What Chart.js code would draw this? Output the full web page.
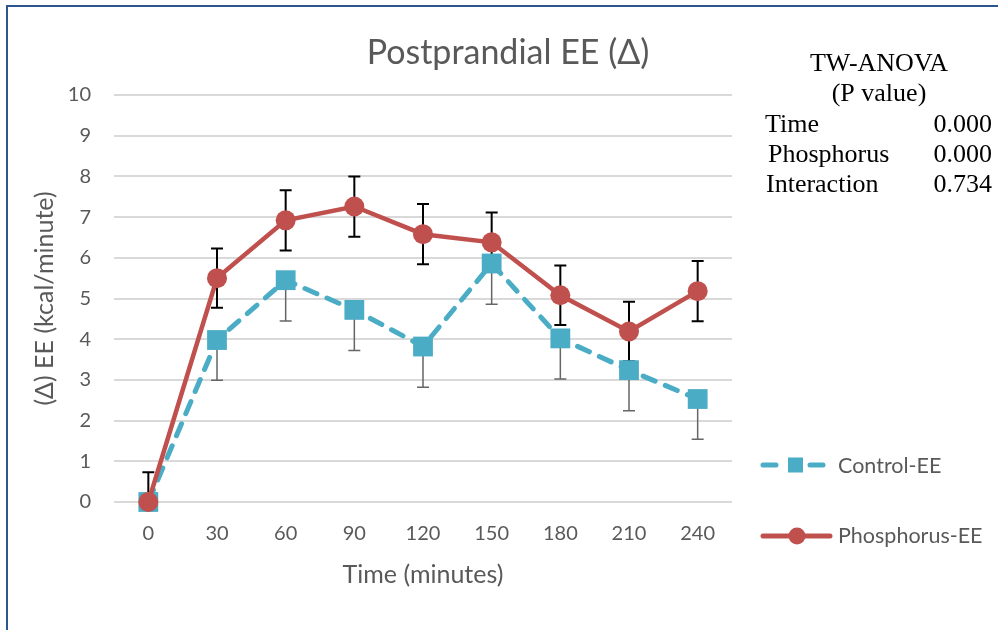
<!DOCTYPE html>
<html>
<head>
<meta charset="utf-8">
<script src="https://cdn.jsdelivr.net/npm/chart.js@4/dist/chart.umd.min.js"></script>
<style>
  html, body { margin: 0; padding: 0; background: #fff; overflow: hidden; }
  #wrap { position: relative; width: 998px; height: 630px; }
  #wrap canvas { position: absolute; left: 0; top: 0; }
  #frame { position: absolute; left: 6px; top: 5px; width: 1200px; height: 900px;
           border-left: 2px solid #2d5592; border-top: 2px solid #2d5592; pointer-events: none; }
</style>
</head>
<body>
<div id="wrap">
  <canvas id="chart" width="998" height="630"></canvas>
  <div id="frame"></div>
</div>
<script>
// Sampling times (minutes after the meal)
const timeLabels = ['0', '30', '60', '90', '120', '150', '180', '210', '240'];

// Change in energy expenditure from baseline, kcal/minute
const controlEE     = [0, 3.98, 5.45, 4.72, 3.82, 5.86, 4.02, 3.24, 2.53];
const controlSE     = [1.0, 0.99, 1.0, 1.0, 1.0, 1.0, 1.0, 1.0, 0.99];
const phosphorusEE  = [0, 5.50, 6.92, 7.26, 6.58, 6.38, 5.08, 4.19, 5.18];
const phosphorusSE  = [0.73, 0.73, 0.74, 0.74, 0.74, 0.73, 0.73, 0.73, 0.74];

// Two-way ANOVA summary
const anovaHeader = ['TW-ANOVA', '(P value)'];
const anovaTerms  = ['Time', 'Phosphorus', 'Interaction'];
const anovaP      = ['0.000', '0.000', '0.734'];

const chartTitle = 'Postprandial EE (\u0394)';
const seriesNames = ['Control-EE', 'Phosphorus-EE'];

const BLUE = '#4bacc6';
const RED = '#c0504d';
const TEXT = '#595959';
const SANS = 'Lato, "Open Sans", sans-serif';
const SERIF = '"Liberation Serif", "Times New Roman", serif';

// Vertical error bars, drawn under the series lines and markers
const errorBars = {
  id: 'errorBars',
  beforeDatasetsDraw(chart) {
    const { ctx, chartArea: a, scales: { x, y } } = chart;
    ctx.save();
    ctx.beginPath();
    ctx.rect(a.left, a.top - 10, a.right - a.left, a.bottom - a.top + 10);
    ctx.clip();
    chart.data.datasets.forEach((ds) => {
      const err = ds.errorBar;
      if (!err) return;
      ctx.strokeStyle = err.color;
      ctx.lineWidth = err.width;
      ds.data.forEach((v, i) => {
        const px = x.getPixelForValue(i);
        const top = err.plus ? y.getPixelForValue(v + err.values[i]) : y.getPixelForValue(v);
        const bot = err.minus ? y.getPixelForValue(v - err.values[i]) : y.getPixelForValue(v);
        ctx.beginPath();
        ctx.moveTo(px, top);
        ctx.lineTo(px, bot);
        if (err.plus) { ctx.moveTo(px - 6, top); ctx.lineTo(px + 6, top); }
        if (err.minus) { ctx.moveTo(px - 6, bot); ctx.lineTo(px + 6, bot); }
        ctx.stroke();
      });
    });
    ctx.restore();
  }
};

// Title, ANOVA table and legend placed around the plot
const sideText = {
  id: 'sideText',
  afterDraw(chart) {
    const ctx = chart.ctx;
    ctx.save();

    ctx.fillStyle = TEXT;
    ctx.font = '34px ' + SANS;
    ctx.textAlign = 'center';
    ctx.textBaseline = 'alphabetic';
    ctx.fillText(chartTitle, 508, 64);

    ctx.fillStyle = '#000';
    ctx.font = '26px ' + SERIF;
    ctx.fillText(anovaHeader[0], 879, 71);
    ctx.fillText(anovaHeader[1], 879, 101);
    const rows = [132, 162, 192];
    const lefts = [765, 768, 766];
    anovaTerms.forEach((t, i) => {
      ctx.textAlign = 'left';
      ctx.fillText(t, lefts[i], rows[i]);
      ctx.textAlign = 'right';
      ctx.fillText(anovaP[i], 992, rows[i]);
    });

    // Legend: dashed blue with square marker, solid red with round marker
    const ly1 = 465, ly2 = 536;
    ctx.lineCap = 'round';
    ctx.lineWidth = 5;
    ctx.strokeStyle = BLUE;
    ctx.beginPath();
    ctx.moveTo(763, ly1); ctx.lineTo(776, ly1);
    ctx.moveTo(810, ly1); ctx.lineTo(823, ly1);
    ctx.stroke();
    ctx.fillStyle = BLUE;
    ctx.fillRect(788, ly1 - 7.5, 15, 15);

    ctx.strokeStyle = RED;
    ctx.beginPath();
    ctx.moveTo(763, ly2); ctx.lineTo(830, ly2);
    ctx.stroke();
    ctx.fillStyle = RED;
    ctx.beginPath();
    ctx.arc(797, ly2, 8.5, 0, Math.PI * 2);
    ctx.fill();

    ctx.fillStyle = TEXT;
    ctx.font = '21.5px ' + SANS;
    ctx.textAlign = 'left';
    ctx.fillText(seriesNames[0], 838, 473);
    ctx.fillText(seriesNames[1], 838, 543);

    ctx.restore();
  }
};

new Chart(document.getElementById('chart'), {
  type: 'line',
  data: {
    labels: timeLabels,
    datasets: [
      {
        label: seriesNames[0],
        data: controlEE,
        order: 1,
        borderColor: BLUE,
        backgroundColor: BLUE,
        borderWidth: 5,
        borderDash: [13, 11],
        borderCapStyle: 'round',
        pointStyle: 'rect',
        pointRadius: 14,
        pointBorderWidth: 0,
        pointBackgroundColor: BLUE,
        tension: 0,
        clip: false,
        errorBar: { values: controlSE, plus: false, minus: true, color: '#666666', width: 1.5 }
      },
      {
        label: seriesNames[1],
        data: phosphorusEE,
        order: 0,
        borderColor: RED,
        backgroundColor: RED,
        borderWidth: 4.5,
        borderCapStyle: 'round',
        pointStyle: 'circle',
        pointRadius: 10,
        pointBorderWidth: 0,
        pointBackgroundColor: RED,
        tension: 0,
        clip: false,
        errorBar: { values: phosphorusSE, plus: true, minus: true, color: '#000000', width: 2 }
      }
    ]
  },
  options: {
    responsive: false,
    animation: false,
    events: [],
    layout: { padding: { top: 95, right: 266, left: 0, bottom: 0 } },
    plugins: {
      legend: { display: false },
      tooltip: { enabled: false },
      title: { display: false }
    },
    scales: {
      x: {
        offset: true,
        grid: { display: false },
        border: { display: false },
        ticks: { color: TEXT, font: { family: SANS, size: 20 }, padding: 12, maxRotation: 0 },
        title: {
          display: true, text: 'Time (minutes)', color: TEXT,
          font: { family: SANS, size: 25 }, padding: { top: 0, bottom: 40 }
        },
        afterFit(scale) { scale.height = 128; }
      },
      y: {
        min: 0,
        max: 10,
        grid: { color: '#d9d9d9', lineWidth: 2, drawTicks: false },
        border: { display: false },
        ticks: { stepSize: 1, color: TEXT, font: { family: SANS, size: 20 }, padding: 23 },
        title: {
          display: true, text: '(\u0394) EE (kcal/minute)', color: TEXT,
          font: { family: SANS, size: 25 }, padding: { top: 30, bottom: 0 }
        },
        afterFit(scale) { scale.width = 114; }
      }
    }
  },
  plugins: [errorBars, sideText]
});
</script>
</body>
</html>
